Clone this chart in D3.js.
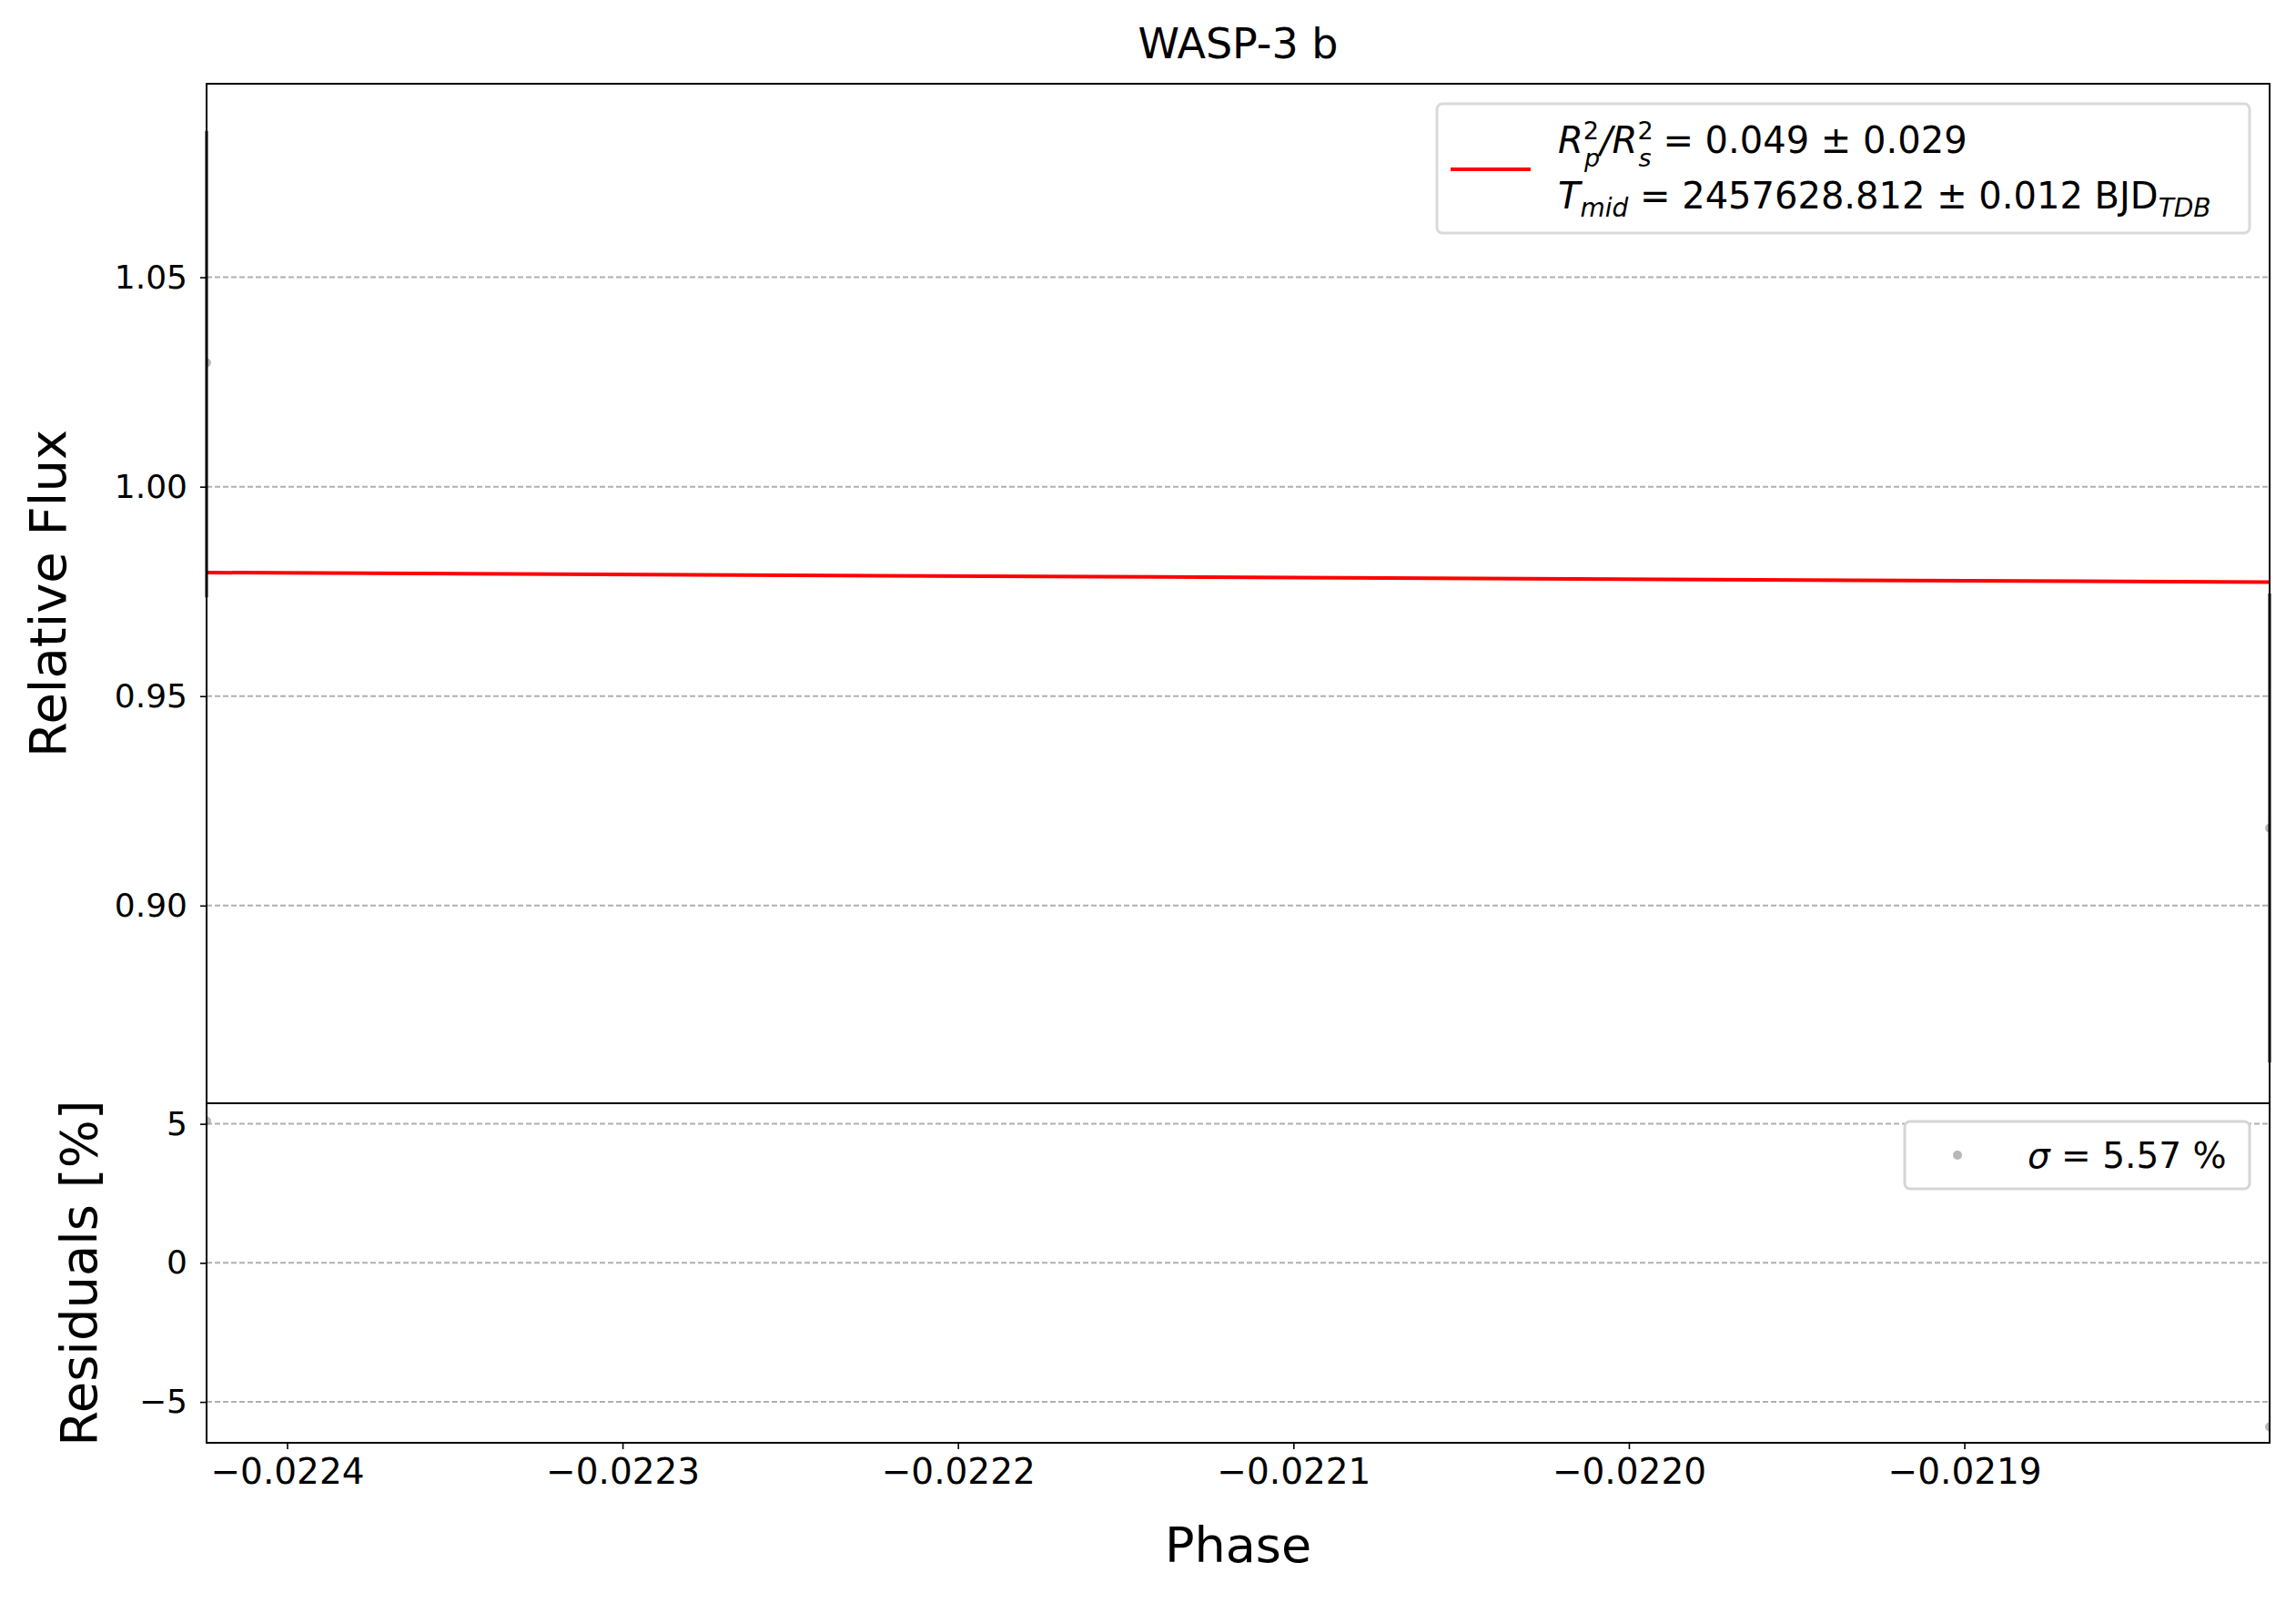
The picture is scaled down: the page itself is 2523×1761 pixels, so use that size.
<!DOCTYPE html><html><head><meta charset="utf-8">
<script src="https://cdn.jsdelivr.net/npm/d3@7"></script>
<style>body{margin:0;background:#fff}text{font-family:"DejaVu Sans",sans-serif}</style></head><body>
<svg id="c" width="2523" height="1761"></svg>
<script>
const phase=[-0.022424,-0.021809];
const flux=[1.0296,0.9185];
const fluxErr=[0.056,0.056];
const model=[0.9795,0.9772];
const resid=[5.1,-5.9];
const fluxTicks=[0.90,0.95,1.00,1.05];
const residTicks=[-5,0,5];
const xTicks=[-0.0224,-0.0223,-0.0222,-0.0221,-0.0220,-0.0219];
const svg=d3.select("#c");
const L=227,R=2494,T=92,M=1212,B=1585;
const x=d3.scaleLinear().domain([-0.022424,-0.021809]).range([L,R]);
const y1=d3.scaleLinear().domain([0.8528,1.0962]).range([M,T]);
const y2=d3.scaleLinear().domain([-6.47,5.74]).range([B,M]);
const fs=36;
const fmtX=d=>"\u2212"+Math.abs(d).toFixed(4);
function grid(y,ticks){svg.append("g").selectAll("line").data(ticks).join("line").attr("x1",L).attr("x2",R).attr("y1",d=>y(d)).attr("y2",d=>y(d)).attr("stroke","#b0b0b0").attr("stroke-width",2).attr("stroke-dasharray","6,3");}
grid(y1,fluxTicks);grid(y2,residTicks);
const cl=svg.append("defs").append("clipPath").attr("id","cp");cl.append("rect").attr("x",L).attr("y",T).attr("width",R-L).attr("height",M-T);
const cl2=svg.select("defs").append("clipPath").attr("id","cp2");cl2.append("rect").attr("x",L).attr("y",M).attr("width",R-L).attr("height",B-M);
const g1=svg.append("g").attr("clip-path","url(#cp)");
g1.selectAll("circle").data(phase).join("circle").attr("cx",d=>x(d)).attr("cy",(d,i)=>y1(flux[i])).attr("r",5).attr("fill","#999").attr("opacity",0.7);
g1.append("path").datum(phase).attr("d",d3.line().x(d=>x(d)).y((d,i)=>y1(model[i]))).attr("stroke","red").attr("stroke-width",4).attr("fill","none");
const g2=svg.append("g").attr("clip-path","url(#cp2)");
g2.selectAll("circle").data(phase).join("circle").attr("cx",d=>x(d)).attr("cy",(d,i)=>y2(resid[i])).attr("r",5).attr("fill","#999").attr("opacity",0.7);
function yax(y,ticks,f){const a=svg.append("g").attr("transform",`translate(${L},0)`).call(d3.axisLeft(y).tickValues(ticks).tickFormat(f).tickSize(7).tickPadding(14));a.select(".domain").remove();a.selectAll("line").attr("stroke-width",1.6);a.selectAll("text").attr("font-size",fs).attr("font-family","DejaVu Sans");}
yax(y1,fluxTicks,d3.format(".2f"));yax(y2,residTicks,d=>d<0?"\u2212"+(-d):d);
const ax=svg.append("g").attr("transform",`translate(0,${B})`).call(d3.axisBottom(x).tickValues(xTicks).tickFormat(fmtX).tickSize(7).tickPadding(10));
ax.select(".domain").remove();ax.selectAll("line").attr("stroke-width",1.6);ax.selectAll("text").attr("font-size",39).attr("font-family","DejaVu Sans");
svg.append("rect").attr("x",L).attr("y",T).attr("width",R-L).attr("height",M-T).attr("fill","none").attr("stroke","#000").attr("stroke-width",2);
svg.append("rect").attr("x",L).attr("y",M).attr("width",R-L).attr("height",B-M).attr("fill","none").attr("stroke","#000").attr("stroke-width",2);
// error bars (drawn over spine, clipped to the flux panel vertically)
svg.append("g").selectAll("line").data(phase).join("line").attr("x1",d=>x(d)).attr("x2",d=>x(d)).attr("y1",(d,i)=>Math.min(M,y1(flux[i]-fluxErr[i]))).attr("y2",(d,i)=>Math.max(T+52,y1(flux[i]+fluxErr[i]))).attr("stroke","#000").attr("stroke-width",3);
svg.append("text").attr("x",(L+R)/2).attr("y",64).attr("text-anchor","middle").attr("font-size",46).text("WASP-3 b");
svg.append("text").attr("x",(L+R)/2).attr("y",1716).attr("text-anchor","middle").attr("font-size",54).text("Phase");
svg.append("text").attr("transform",`translate(72,${(T+M)/2}) rotate(-90)`).attr("text-anchor","middle").attr("font-size",56).text("Relative Flux");
svg.append("text").attr("transform",`translate(106,${(M+B)/2}) rotate(-90)`).attr("text-anchor","middle").attr("font-size",56).text("Residuals [%]");
// legend 1
svg.append("rect").attr("x",1579).attr("y",114).attr("width",893).attr("height",142).attr("rx",6).attr("fill","#fff").attr("stroke","#d5d5d5").attr("stroke-width",3).attr("opacity",0.9);
svg.append("line").attr("x1",1594).attr("x2",1682).attr("y1",186).attr("y2",186).attr("stroke","red").attr("stroke-width",4);
const t1=svg.append("text").attr("x",1712).attr("y",168).attr("font-size",40);
t1.append("tspan").attr("font-style","italic").text("R");t1.append("tspan").attr("font-size",27).attr("dy",-15).text("2");t1.append("tspan").attr("font-size",27).attr("font-style","italic").attr("dx",-16).attr("dy",30).text("p");
t1.append("tspan").attr("dy",-15).attr("font-style","italic").text("/R");t1.append("tspan").attr("font-size",27).attr("dy",-15).text("2");t1.append("tspan").attr("font-size",27).attr("font-style","italic").attr("dx",-16).attr("dy",30).text("s");
t1.append("tspan").attr("dy",-15).text(" = 0.049 \u00b1 0.029");
const t2=svg.append("text").attr("x",1712).attr("y",229).attr("font-size",40);
t2.append("tspan").attr("font-style","italic").text("T");t2.append("tspan").attr("font-size",28).attr("font-style","italic").attr("dy",9).text("mid");
t2.append("tspan").attr("dy",-9).text(" = 2457628.812 \u00b1 0.012 BJD");t2.append("tspan").attr("font-size",28).attr("font-style","italic").attr("dy",9).text("TDB");
// legend 2
svg.append("rect").attr("x",2093).attr("y",1232).attr("width",379).attr("height",74).attr("rx",6).attr("fill","#fff").attr("stroke","#d5d5d5").attr("stroke-width",3);
svg.append("circle").attr("cx",2151).attr("cy",1269).attr("r",5).attr("fill","#999").attr("opacity",0.7);
const t3=svg.append("text").attr("x",2228).attr("y",1283).attr("font-size",39);
t3.append("tspan").attr("font-style","italic").text("\u03c3");t3.append("tspan").text(" = 5.57 %");
</script></body></html>
